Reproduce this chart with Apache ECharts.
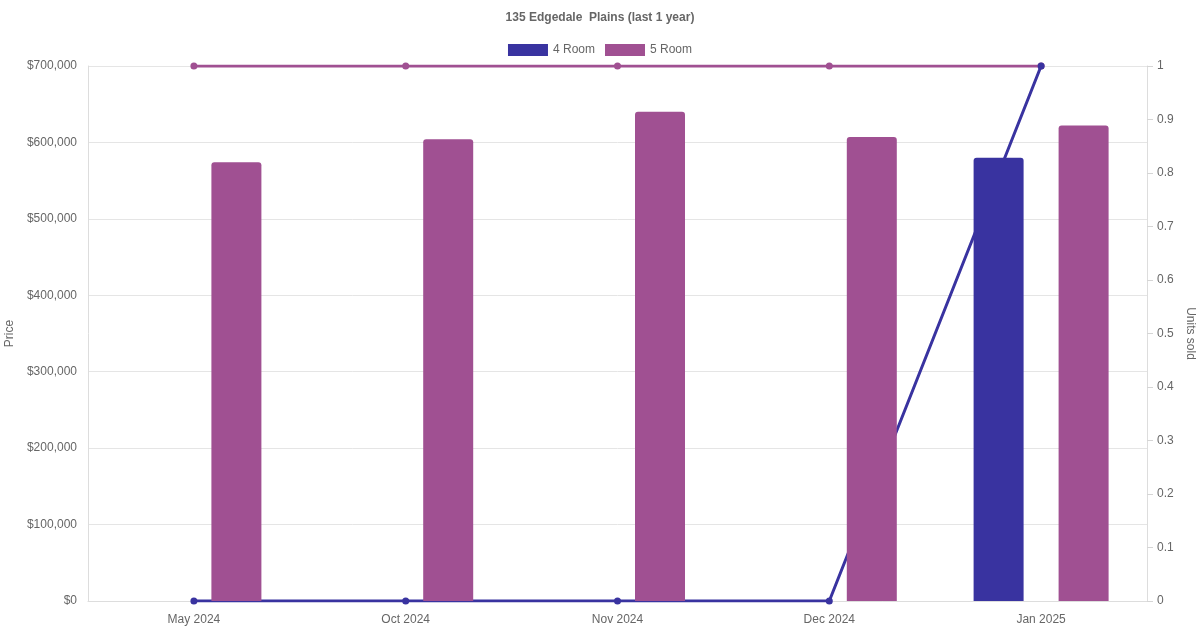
<!DOCTYPE html>
<html>
<head>
<meta charset="utf-8">
<script src="https://cdn.jsdelivr.net/npm/echarts@6/dist/echarts.min.js"></script>
<style>
  html, body { margin: 0; padding: 0; background: #fff; }
  #chart { width: 1200px; height: 630px; }
</style>
</head>
<body>
<div id="chart"></div>
<script>
var months = ['May 2024', 'Oct 2024', 'Nov 2024', 'Dec 2024', 'Jan 2025'];
var price4 = [null, null, null, null, 580000];
var price5 = [574000, 604000, 640000, 607000, 622000];
var units4 = [0, 0, 0, 0, 1];
var units5 = [1, 1, 1, 1, 1];

var c4 = '#3933a0';
var c5 = '#a05092';
var font = 'Liberation Sans, Arial, sans-serif';

var chart = echarts.init(document.getElementById('chart'));
option = {
    animation: false,
    textStyle: { fontFamily: font },
    title: {
        text: '135 Edgedale  Plains (last 1 year)',
        left: 'center',
        top: 7,
        textStyle: { fontSize: 12, fontWeight: 'bold', color: '#666', fontFamily: font }
    },
    legend: {
        top: 39,
        left: 'center',
        itemWidth: 40,
        itemHeight: 12,
        itemGap: 10,
        textStyle: { color: '#666', fontSize: 12 },
        data: [
            { name: '4 Room', icon: 'rect' },
            { name: '5 Room', icon: 'rect' }
        ]
    },
    grid: { left: 88, right: 53, top: 66, bottom: 29, containLabel: false, outerBoundsMode: 'none' },
    xAxis: {
        type: 'category',
        data: months,
        boundaryGap: true,
        axisLine: { show: true, lineStyle: { color: '#ddd' } },
        axisTick: { show: false },
        axisLabel: { color: '#666', fontSize: 12, margin: 13 },
        splitLine: { show: false }
    },
    yAxis: [
        {
            type: 'value',
            min: 0,
            max: 700000,
            interval: 100000,
            name: 'Price',
            nameLocation: 'middle',
            nameGap: 69,
            nameTextStyle: { color: '#666', fontSize: 12 },
            axisLine: { show: true, lineStyle: { color: '#ddd' } },
            axisTick: { show: false },
            axisLabel: {
                color: '#666', fontSize: 12, margin: 11,
                formatter: function (v) { return '$' + v.toLocaleString('en-US'); }
            },
            splitLine: { show: true, lineStyle: { color: '#e5e5e5' } }
        },
        {
            type: 'value',
            min: 0,
            max: 1,
            interval: 0.1,
            position: 'right',
            name: 'Units sold',
            nameLocation: 'middle',
            nameGap: 32,
            nameRotate: -90,
            nameTextStyle: { color: '#666', fontSize: 12 },
            axisLine: { show: true, lineStyle: { color: '#ddd' } },
            axisTick: { show: true, length: 6, lineStyle: { color: '#d5d5d5' } },
            axisLabel: {
                color: '#666', fontSize: 12, margin: 10,
                formatter: function (v) { return String(Math.round(v * 10) / 10); }
            },
            splitLine: { show: false }
        }
    ],
    series: [
        {
            name: '4 Room',
            type: 'bar',
            data: price4,
            barWidth: 50,
            barGap: '70%',
            z: 5,
            itemStyle: { color: c4, borderRadius: [3, 3, 0, 0] }
        },
        {
            name: '5 Room',
            type: 'bar',
            data: price5,
            barWidth: 50,
            barGap: '70%',
            z: 5,
            itemStyle: { color: c5, borderRadius: [3, 3, 0, 0] }
        },
        {
            name: '5 Room',
            type: 'line',
            yAxisIndex: 1,
            data: units5,
            z: 2,
            symbol: 'circle',
            symbolSize: 7,
            lineStyle: { color: c5, width: 3 },
            itemStyle: { color: c5 }
        },
        {
            name: '4 Room',
            type: 'line',
            yAxisIndex: 1,
            data: units4,
            z: 3,
            symbol: 'circle',
            symbolSize: 7,
            lineStyle: { color: c4, width: 3 },
            itemStyle: { color: c4 }
        }
    ]
};
chart.setOption(option);
</script>
</body>
</html>
